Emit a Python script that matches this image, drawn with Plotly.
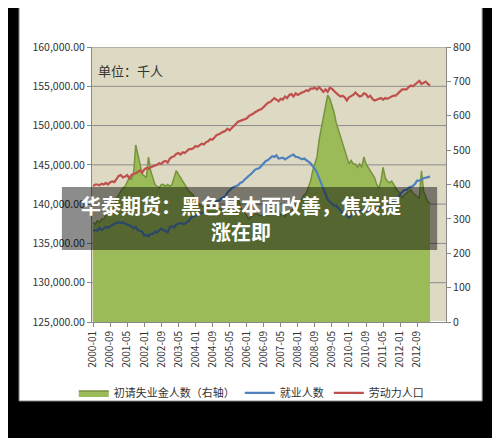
import pandas as pd
import plotly.graph_objects as go

months = [p.strftime("%Y-%m") for p in pd.period_range("2000-01", "2013-03", freq="M")]

# 初请失业金人数（右轴，千人）
claims = [
    290, 285, 295, 290, 300, 300, 310, 315, 320, 330, 340, 360,
    370, 380, 390, 395, 410, 420, 415, 430, 515, 490, 460, 430,
    425, 420, 480, 440, 420, 400, 395, 390, 400, 400, 395, 400,
    395, 400, 420, 440, 430, 420, 410, 400, 390, 380, 375, 370,
    355, 350, 340, 335, 335, 340, 345, 335, 340, 335, 330, 330,
    330, 320, 330, 325, 330, 320, 325, 315, 360, 340, 320, 320,
    310, 300, 305, 310, 315, 315, 310, 310, 315, 315, 320, 320,
    320, 325, 315, 325, 310, 315, 305, 320, 315, 325, 330, 340,
    330, 350, 360, 370, 375, 390, 410, 440, 460, 480, 530, 560,
    590, 630, 660, 650, 630, 610, 580, 560, 540, 520, 500, 480,
    460, 470, 460, 460, 450, 460, 450, 480, 460, 450, 440, 430,
    420, 400, 390, 410, 450, 420, 410, 405, 410, 400, 390, 380,
    375, 360, 370, 375, 380, 385, 375, 370, 365, 360, 440, 380,
    365, 350, 345,
]

# 就业人数（千人）
employed = [
    136600, 136700, 136600, 137000, 136700, 136900, 137100, 137000, 137200, 137400, 137500, 137600,
    137700, 137600, 137700, 137500, 137400, 137300, 137200, 136900, 137100, 136700, 136600, 136500,
    136000, 136100, 135900, 136200, 136200, 136500, 136400, 136600, 136900, 136700, 136500, 136400,
    137100, 137200, 137000, 137400, 137500, 137600, 137500, 137500, 137700, 137900, 138300, 138400,
    138500, 138700, 138700, 138800, 139000, 139300, 139600, 139600, 139800, 140000, 140400, 140400,
    140700, 140900, 141000, 141500, 141800, 142000, 142200, 142300, 142400, 142700, 142800, 143100,
    143400, 143600, 143800, 144100, 144400, 144500, 144600, 144900, 145200, 145500, 145600, 145800,
    146100, 146000, 146200, 145800, 145900, 145900, 145700, 145900, 146000, 146200, 146300, 146000,
    146000, 145900, 145700, 145800, 145600, 145300, 145200, 144800, 144500, 144000, 143300, 142600,
    141800, 141100, 140600, 140300, 140000, 139800, 139800, 139500, 139200, 138900, 138800, 138500,
    138300, 138600, 138900, 139000, 139300, 139200, 139100, 139200, 139300, 139200, 139200, 139300,
    139300, 139500, 139600, 139600, 139600, 139500, 139800, 140000, 140200, 140500, 140600, 140800,
    141300, 141600, 141800, 141800, 142100, 142200, 142300, 142600, 143000, 143000, 143100, 143300,
    143400, 143400, 143500,
]

# 劳动力人口（千人）
labor = [
    142300, 142500, 142500, 142400, 142600, 142500, 142700, 142500, 142800, 142900, 142800, 143200,
    143600, 143700, 143400, 143500, 143700, 143300, 143700, 143900, 143900, 144100, 144300, 144000,
    144400, 144600, 144500, 144700, 144800, 144900, 145000, 145200, 145100, 145400, 145500, 145300,
    145800, 146000, 146100, 146400, 146500, 146300, 146600, 146500, 146800, 147000, 147000, 147100,
    147400, 147300, 147500, 147700, 147600, 147900, 148000, 148300, 148200, 148500, 148800, 148900,
    149100, 149200, 149300, 149600, 149400, 149700, 150000, 150200, 150500, 150600, 150700, 150700,
    150900, 151200, 151300, 151500, 151700, 151900, 152000, 152100, 152400, 152600, 152900, 153000,
    153200, 153500, 153300, 153100, 153400, 153300, 153700, 153500, 153900, 154000, 153700, 154100,
    153900, 154100, 154200, 154300, 154500, 154400, 154700, 154700, 154800, 154600, 154900, 154600,
    154300, 154600, 154300, 154800, 154700, 154400, 154100, 153900, 153700, 153800, 153600, 153200,
    153600, 153700, 153900, 154200, 154000, 153700, 153800, 154100, 154000, 153600, 153800, 153400,
    153200, 153300, 153400, 153500, 153300, 153500, 153400, 153600, 153700, 153800, 153800, 154100,
    154300, 154600, 154600, 154600, 154900, 155100, 155000, 155200, 155500, 155700, 155300, 155500,
    155600, 155300, 155100,
]

tick_months = months[::8]
left_ticks = list(range(125000, 160001, 5000))

fig = go.Figure()
fig.add_trace(go.Scatter(
    x=months, y=claims, name="初请失业金人数（右轴）", mode="lines",
    fill="tozeroy", fillcolor="#9BBB59", line=dict(color="#77933C", width=1.5),
    yaxis="y",
))
fig.add_trace(go.Scatter(
    x=months, y=employed, name="就业人数", mode="lines",
    line=dict(color="#4F81BD", width=2.2), yaxis="y2",
))
fig.add_trace(go.Scatter(
    x=months, y=labor, name="劳动力人口", mode="lines",
    line=dict(color="#C0504D", width=2.2), yaxis="y2",
))

# 白色图表区 + 绘图区底色 + 网格线（都在面积图下面）
shapes = [
    dict(type="rect", xref="paper", yref="paper", x0=-0.206, x1=1.102, y0=-0.287, y1=1.149,
         fillcolor="white", line=dict(color="#999", width=1), layer="below"),
    dict(type="rect", xref="paper", yref="paper", x0=0, x1=1, y0=0, y1=1,
         fillcolor="#DDD9C3", line=dict(width=0), layer="below"),
]
for v in left_ticks[1:]:
    shapes.append(dict(type="line", xref="paper", yref="y2", x0=0, x1=1, y0=v, y1=v,
                       line=dict(color="#8c8c8c", width=1), layer="below"))
# 标题遮罩条
shapes.append(dict(type="rect", xref="paper", yref="paper", x0=-0.085, x1=0.975,
                   y0=0.262, y1=0.491, fillcolor="rgba(0,0,0,0.45)", line=dict(width=0),
                   layer="above"))

fig.update_layout(
    width=500, height=438,
    margin=dict(l=84, r=62, t=39, b=124),
    paper_bgcolor="black", plot_bgcolor="rgba(0,0,0,0)",
    font=dict(family="Noto Sans CJK SC", size=10, color="#222"),
    showlegend=True,
    legend=dict(orientation="h", x=0.45, xanchor="center", y=-0.205, yanchor="top",
                font=dict(size=11, color="#333"), bgcolor="rgba(0,0,0,0)",
                itemwidth=30, tracegroupgap=0),
    xaxis=dict(type="category", tickmode="array", tickvals=tick_months, ticktext=tick_months,
               tickangle=-90, showgrid=False, ticks="outside", ticklen=4,
               tickcolor="#888", linecolor="#888", range=[-0.5, len(months) + 6.5],
               tickfont=dict(size=10, color="#333")),
    yaxis=dict(side="right", range=[0, 800], dtick=100, showgrid=False,
               ticks="outside", ticklen=4, tickcolor="#888", linecolor="#888",
               showline=True, tickfont=dict(size=10.5, color="#333")),
    yaxis2=dict(side="left", overlaying="y", range=[125000, 160000],
                tickvals=left_ticks, tickformat=",.2f", showgrid=False,
                ticks="outside", ticklen=4, tickcolor="#888", linecolor="#888",
                showline=True, tickfont=dict(size=10.5, color="#333")),
    shapes=shapes,
    annotations=[
        dict(text="单位：千人", xref="paper", yref="paper", x=0.01, y=0.915,
             xanchor="left", yanchor="middle", showarrow=False,
             font=dict(size=13, color="#333")),
        dict(text="<b>华泰期货：黑色基本面改善，焦炭提<br>涨在即</b>", xref="paper", yref="paper",
             x=0.42, y=0.376, xanchor="center", yanchor="middle", showarrow=False,
             font=dict(size=20, color="white"), align="center"),
    ],
)

fig.write_html("out.html")
